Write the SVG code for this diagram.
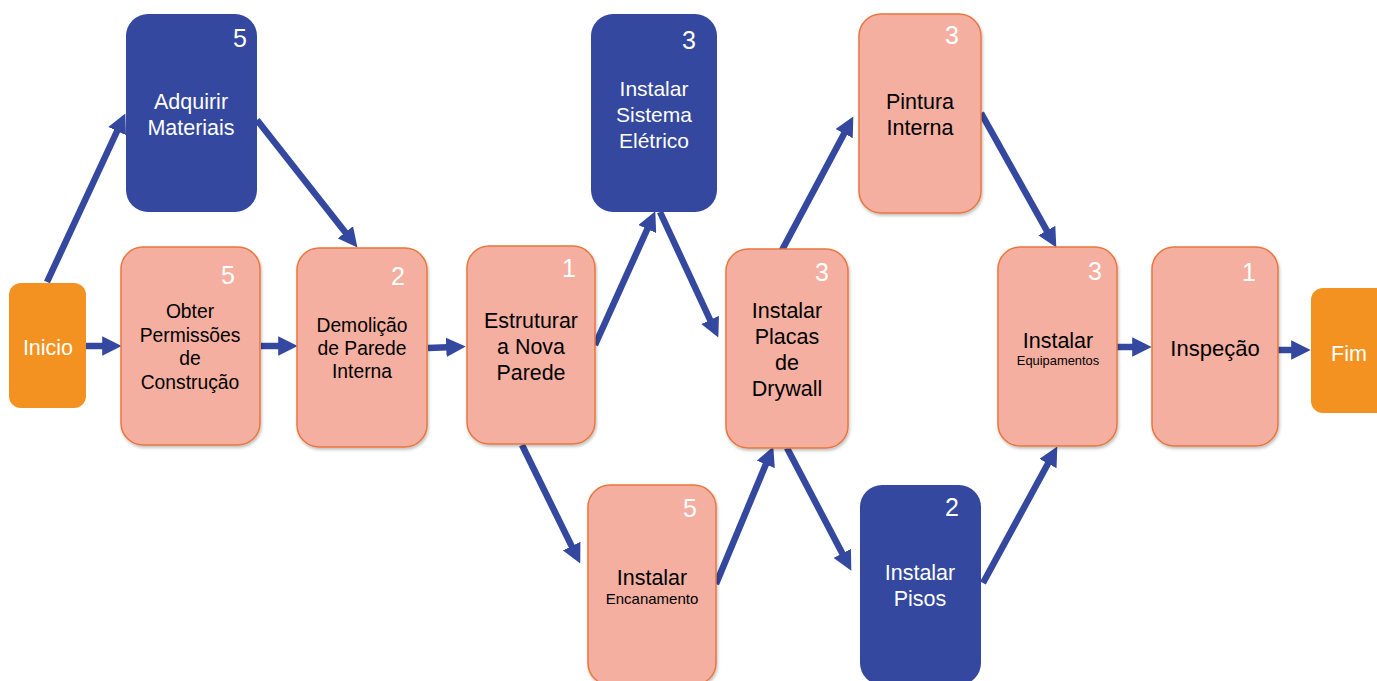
<svg xmlns="http://www.w3.org/2000/svg" width="1377" height="681" viewBox="0 0 1377 681">
<defs>
<style>
.blue{fill:#33489E;}
.sal{fill:#F4AFA0;stroke:#E8773F;stroke-width:1.5;}
.org{fill:#F39220;}
text{font-family:"Liberation Sans",Arial,sans-serif;text-anchor:middle;}
.w{fill:#FFFFFF;}
.k{fill:#000000;}
.num{font-size:25px;fill:#FFFFFF;}
.c{stroke:#33489E;stroke-width:6.5;fill:none;marker-end:url(#ah);}
</style>
<marker id="ah" viewBox="0 0 10 10" refX="4" refY="5" markerWidth="3" markerHeight="3" orient="auto" markerUnits="strokeWidth">
<path d="M0,0 L10,5 L0,10 z" fill="#33489E"/>
</marker>
<filter id="sh" x="-10%" y="-10%" width="125%" height="125%">
<feDropShadow dx="1" dy="2" stdDeviation="1.5" flood-color="#000" flood-opacity="0.25"/>
</filter>
</defs>
<g id="connectors">
<line class="c" x1="47" y1="282" x2="120.4" y2="124"/>
<line class="c" x1="257" y1="120" x2="350.2" y2="238.4"/>
<line class="c" x1="86" y1="346" x2="110" y2="346"/>
<line class="c" x1="261" y1="346" x2="286" y2="346"/>
<line class="c" x1="428" y1="348" x2="454" y2="347"/>
<line class="c" x1="595" y1="345" x2="650.5" y2="222"/>
<line class="c" x1="660" y1="212" x2="713.4" y2="327"/>
<line class="c" x1="522" y1="445" x2="575.1" y2="553.1"/>
<line class="c" x1="716" y1="584" x2="768.8" y2="457.2"/>
<line class="c" x1="781" y1="252" x2="847.8" y2="126.7"/>
<line class="c" x1="981" y1="113" x2="1050.6" y2="237.4"/>
<line class="c" x1="787" y1="448" x2="845.9" y2="560.3"/>
<line class="c" x1="983" y1="583" x2="1051.7" y2="456.7"/>
<line class="c" x1="1117" y1="347" x2="1140" y2="347"/>
<line class="c" x1="1278" y1="350" x2="1299" y2="350"/>
</g>
<g id="inicio">
<rect class="org" x="9" y="283" width="77" height="125" rx="12"/>
<text class="w" x="48" y="355" font-size="21.5">Inicio</text>
</g>
<g id="adquirir">
<rect class="blue" x="126" y="14" width="131" height="198" rx="22"/>
<text class="num" x="240" y="47">5</text>
<text class="w" font-size="21.5"><tspan x="191" y="109">Adquirir</tspan><tspan x="191" y="135">Materiais</tspan></text>
</g>
<g id="obter">
<rect class="sal" x="121" y="247" width="139" height="198" rx="22" filter="url(#sh)"/>
<text class="num" x="228" y="284">5</text>
<text class="k" font-size="19.3"><tspan x="190" y="318">Obter</tspan><tspan x="190" y="342">Permissões</tspan><tspan x="190" y="365">de</tspan><tspan x="190" y="389">Construção</tspan></text>
</g>
<g id="demolicao">
<rect class="sal" x="297" y="248" width="130" height="199" rx="22" filter="url(#sh)"/>
<text class="num" x="398" y="285">2</text>
<text class="k" font-size="19.3"><tspan x="362" y="332">Demolição</tspan><tspan x="362" y="355">de Parede</tspan><tspan x="362" y="378">Interna</tspan></text>
</g>
<g id="estruturar">
<rect class="sal" x="467" y="246" width="128" height="198" rx="22" filter="url(#sh)"/>
<text class="num" x="569" y="277">1</text>
<text class="k" font-size="21.4"><tspan x="531" y="328">Estruturar</tspan><tspan x="531" y="354">a Nova</tspan><tspan x="531" y="380">Parede</tspan></text>
</g>
<g id="eletrico">
<rect class="blue" x="591" y="14" width="126" height="198" rx="22"/>
<text class="num" x="689" y="49">3</text>
<text class="w" font-size="21"><tspan x="654" y="96">Instalar</tspan><tspan x="654" y="122">Sistema</tspan><tspan x="654" y="148">Elétrico</tspan></text>
</g>
<g id="encanamento">
<rect class="sal" x="588" y="485" width="128" height="200" rx="22" filter="url(#sh)"/>
<text class="num" x="690" y="517">5</text>
<text class="k" x="652" y="585" font-size="21.5">Instalar</text>
<text class="k" x="652" y="604" font-size="15">Encanamento</text>
</g>
<g id="drywall">
<rect class="sal" x="726" y="249" width="122" height="199" rx="22" filter="url(#sh)"/>
<text class="num" x="822" y="281">3</text>
<text class="k" font-size="21.5"><tspan x="787" y="318">Instalar</tspan><tspan x="787" y="344">Placas</tspan><tspan x="787" y="370">de</tspan><tspan x="787" y="396">Drywall</tspan></text>
</g>
<g id="pintura">
<rect class="sal" x="859" y="14" width="122" height="199" rx="22" filter="url(#sh)"/>
<text class="num" x="952" y="44">3</text>
<text class="k" font-size="21.5"><tspan x="920" y="109">Pintura</tspan><tspan x="920" y="135">Interna</tspan></text>
</g>
<g id="pisos">
<rect class="blue" x="860" y="485" width="121" height="200" rx="22"/>
<text class="num" x="952" y="516">2</text>
<text class="w" font-size="21.5"><tspan x="920" y="580">Instalar</tspan><tspan x="920" y="606">Pisos</tspan></text>
</g>
<g id="equipamentos">
<rect class="sal" x="998" y="247" width="119" height="199" rx="22" filter="url(#sh)"/>
<text class="num" x="1095" y="280">3</text>
<text class="k" x="1058" y="348" font-size="21.5">Instalar</text>
<text class="k" x="1058" y="365" font-size="12.9">Equipamentos</text>
</g>
<g id="inspecao">
<rect class="sal" x="1152" y="247" width="126" height="199" rx="22" filter="url(#sh)"/>
<text class="num" x="1249" y="281">1</text>
<text class="k" x="1215" y="356" font-size="22">Inspeção</text>
</g>
<g id="fim">
<rect class="org" x="1311" y="288" width="80" height="125" rx="12"/>
<text class="w" x="1349" y="361" font-size="21.5">Fim</text>
</g>
</svg>
